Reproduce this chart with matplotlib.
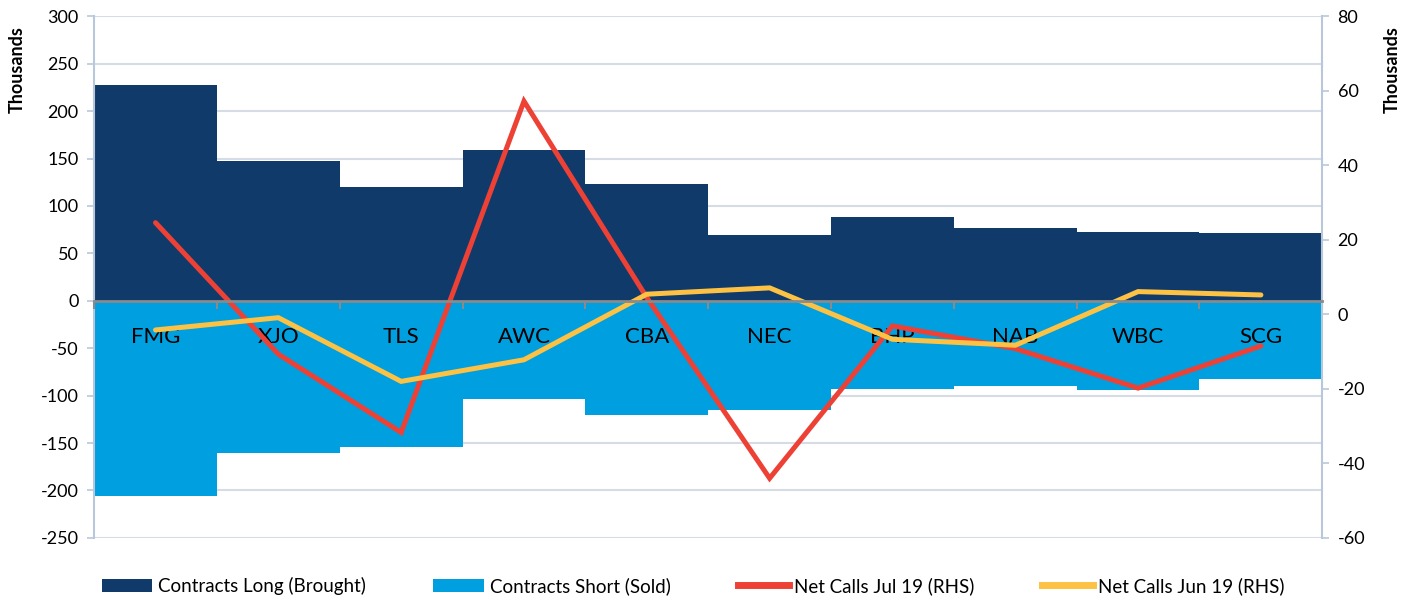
import matplotlib.pyplot as plt
import matplotlib
import numpy as np
from matplotlib.patches import Patch
from matplotlib.lines import Line2D

matplotlib.rcParams['font.family'] = ['Lato', 'DejaVu Sans']
matplotlib.rcParams['axes.unicode_minus'] = False

# data (thousands)
tickers = ['FMG', 'XJO', 'TLS', 'AWC', 'CBA', 'NEC', 'BHP', 'NAB', 'WBC', 'SCG']
contracts_long = [228, 147, 120, 159, 123, 69, 88, 77, 72, 71]
contracts_short = [-206, -160, -154, -104, -120, -115, -93, -90, -94, -82]
net_calls_jul19 = [24.6, -10.7, -31.7, 57.2, 4.5, -44.0, -3.1, -9.2, -19.8, -8.5]
net_calls_jun19 = [-4.2, -0.9, -18.0, -12.2, 5.4, 7.1, -6.7, -8.3, 6.1, 5.2]

NAVY = '#0F3A6A'
LIGHT = '#009FDF'
RED = '#EE4136'
YELLOW = '#FDC244'
GRID = '#D6DCE5'
AXIS = '#B8C8DA'
ZERO = '#8A8A8A'

y_min, y_max = -250, 300

fig = plt.figure(figsize=(14.15, 6.01), dpi=100)
ax = fig.add_axes([0.0665, 0.105, 0.868, 0.868])
x = np.arange(len(tickers))

ax.bar(x, contracts_long, width=1.0, color=NAVY, zorder=1)
ax.bar(x, contracts_short, width=1.0, color=LIGHT, zorder=1)

ax.set_xlim(-0.5, len(tickers) - 0.5)
ax.set_ylim(y_min, y_max)
ax.set_yticks(np.arange(y_min, y_max + 1, 50))
ax.grid(axis='y', color=GRID, linewidth=1.5, zorder=0)
ax.set_axisbelow(True)

for s in ['top', 'right', 'bottom']:
    ax.spines[s].set_visible(False)
ax.spines['left'].set_color(AXIS)
ax.spines['left'].set_linewidth(1.5)
ax.tick_params(axis='x', which='both', bottom=False, labelbottom=False)
ax.tick_params(axis='y', labelsize=13, length=5, width=1.2, color=AXIS, pad=6)
ax.set_ylabel('Thousands', fontsize=13, fontweight='bold')
ax.yaxis.set_label_coords(-0.056, 0.897)

ax2 = ax.twinx()
ax2.plot(x, net_calls_jul19, color=RED, linewidth=3.6, solid_capstyle='round', solid_joinstyle='miter')
ax2.plot(x, net_calls_jun19, color=YELLOW, linewidth=3.6, solid_capstyle='round', solid_joinstyle='miter')
ax2.set_ylim(-60, 80)
ax2.set_yticks(np.arange(-60, 81, 20))
for s in ['top', 'left']:
    ax2.spines[s].set_visible(False)
ax2.spines['right'].set_color(AXIS)
ax2.spines['right'].set_linewidth(1.5)
ax2.tick_params(axis='y', labelsize=13, length=5, width=1.2, color=AXIS, pad=6)
ax2.set_ylabel('Thousands', fontsize=13, fontweight='bold')
ax2.yaxis.set_label_coords(1.05, 0.897)

# category axis drawn on the twin so it sits above the bars, at left-axis zero
ax2.xaxis.set_visible(True)
ax2.spines['bottom'].set_position(('axes', (0 - y_min) / (y_max - y_min)))
ax2.spines['bottom'].set_color(ZERO)
ax2.spines['bottom'].set_linewidth(2)
ax2.set_xticks(x)
ax2.set_xticklabels(tickers, fontsize=16)
ax2.set_xticks(np.arange(-0.5, len(tickers), 1.0), minor=True)
ax2.tick_params(axis='x', which='major', length=0, pad=19)
ax2.tick_params(axis='x', which='minor', length=6, width=1.5, color=ZERO)

handles = [
    Patch(facecolor=NAVY, label='Contracts Long (Brought)'),
    Patch(facecolor=LIGHT, label='Contracts Short (Sold)'),
    Line2D([], [], color=RED, linewidth=5, label='Net Calls Jul 19 (RHS)'),
    Line2D([], [], color=YELLOW, linewidth=5, label='Net Calls Jun 19 (RHS)'),
]
fig.legend(handles=handles, loc='lower center', bbox_to_anchor=(0.49, -0.018), ncol=4,
           frameon=False, fontsize=13.5, handlelength=2.7, handleheight=0.7,
           handletextpad=0.3, columnspacing=3.6)

fig.savefig('out.png', dpi=100)
